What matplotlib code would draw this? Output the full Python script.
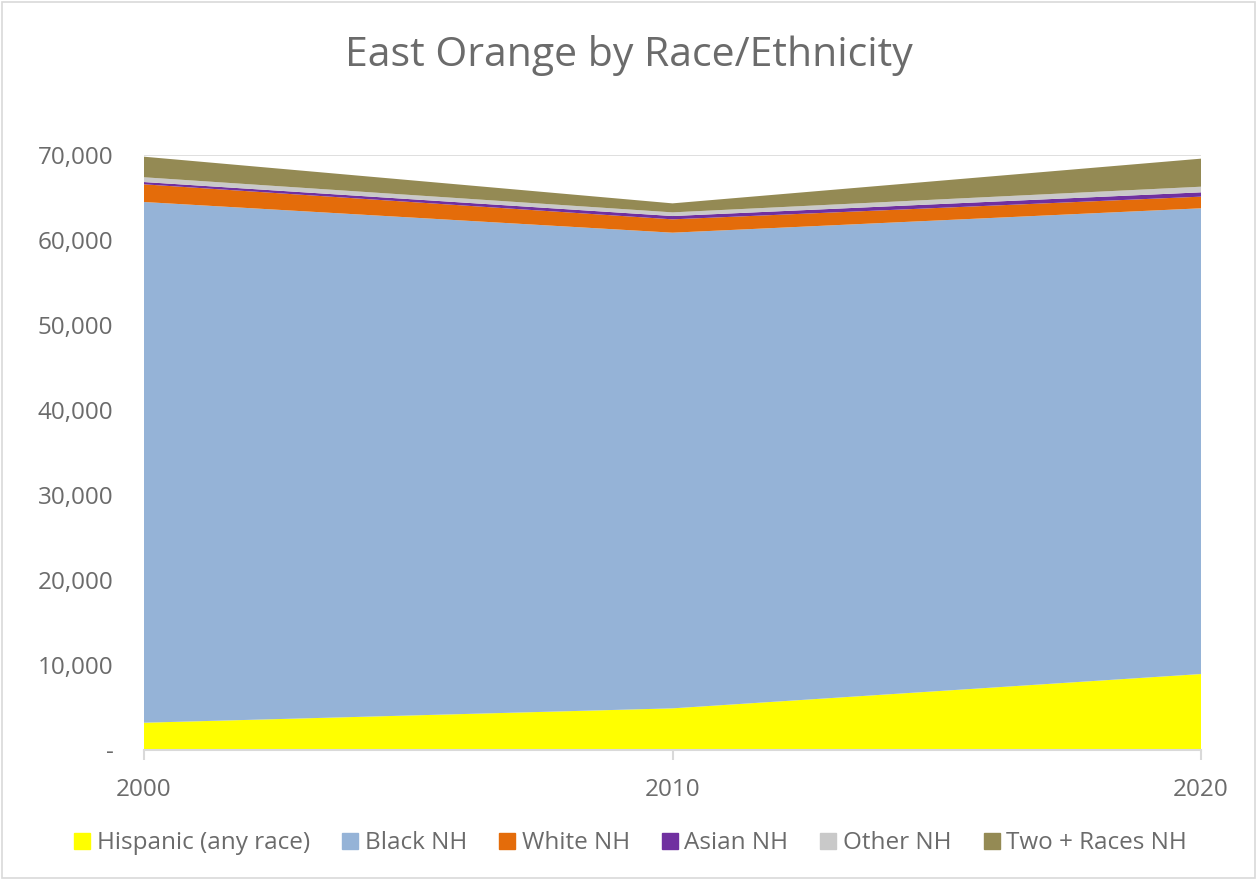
"""Stacked area chart: East Orange population by race/ethnicity."""

import matplotlib
matplotlib.use("Agg")
import matplotlib.pyplot as plt
from matplotlib.lines import Line2D
from matplotlib.ticker import FuncFormatter

YEARS = [2000, 2010, 2020]
SERIES = ["Hispanic (any race)", "Black NH", "White NH", "Asian NH", "Other NH", "Two + Races NH"]
HISPANIC = [3210, 4900, 8940]
BLACK_NH = [61260, 55960, 54790]
WHITE_NH = [2080, 1570, 1370]
ASIAN_NH = [270, 390, 510]
OTHER_NH = [560, 430, 660]
TWO_PLUS_NH = [2420, 1060, 3300]
COLORS = ["#FFFF00", "#95B3D7", "#E46C0A", "#7030A0", "#C9C9C9", "#948A54"]
Y_TICKS = [0, 10000, 20000, 30000, 40000, 50000, 60000, 70000]

TEXT_COLOR = "#6b6b6b"
plt.rcParams["font.family"] = ["Open Sans", "DejaVu Sans"]


def fmt_thousands(value, _pos):
    return "-" if value == 0 else f"{value:,.0f}"


def main() -> None:
    fig = plt.figure(figsize=(12.57, 8.8), dpi=100)
    fig.patch.set_facecolor("white")
    ax = fig.add_axes([144 / 1257, 130 / 880, (1201 - 144) / 1257, (750 - 155) / 880])

    values = [HISPANIC, BLACK_NH, WHITE_NH, ASIAN_NH, OTHER_NH, TWO_PLUS_NH]
    ax.stackplot(YEARS, *values, colors=COLORS, labels=SERIES, linewidth=0, zorder=2)

    ax.set_xlim(2000, 2020)
    ax.set_ylim(0, 70000)
    ax.set_yticks(Y_TICKS)
    ax.yaxis.set_major_formatter(FuncFormatter(fmt_thousands))
    ax.set_xticks(YEARS)
    ax.grid(axis="y", color="#d9d9d9", linewidth=1.2, zorder=0)
    ax.set_axisbelow(True)

    for side in ["top", "right", "left"]:
        ax.spines[side].set_visible(False)
    ax.spines["bottom"].set_color("#d9d9d9")
    ax.spines["bottom"].set_linewidth(1.5)
    ax.spines["bottom"].set_zorder(3)

    ax.tick_params(axis="y", length=0, pad=22, labelsize=17.5, labelcolor=TEXT_COLOR)
    ax.tick_params(axis="x", length=7, width=1.5, color="#d9d9d9", pad=13,
                   labelsize=17.5, labelcolor=TEXT_COLOR)

    fig.text(0.5, 0.937, "East Orange by Race/Ethnicity", ha="center", va="center",
             fontsize=29.5, color=TEXT_COLOR)

    handles = [Line2D([], [], marker="s", linestyle="none", markersize=11,
                      markerfacecolor=c, markeredgecolor=c) for c in COLORS]
    fig.legend(handles, SERIES, loc="center", bbox_to_anchor=(0.5, 0.042), ncol=6,
               frameon=False, fontsize=17.5, labelcolor=TEXT_COLOR,
               handletextpad=0.1, columnspacing=1.15, handlelength=1.0)

    border = plt.Rectangle((0.0015, 0.002), 0.997, 0.996, transform=fig.transFigure,
                           fill=False, edgecolor="#d9d9d9", linewidth=1.2)
    fig.patches.append(border)

    fig.savefig("out.png", dpi=100, facecolor="white")
    plt.close(fig)


if __name__ == "__main__":
    main()
